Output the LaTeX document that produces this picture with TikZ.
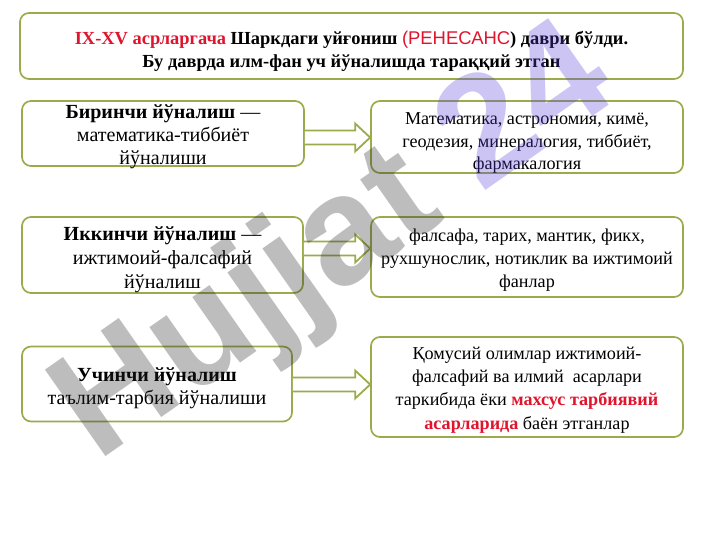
\documentclass[tikz,border=0pt]{standalone}
\usepackage{fontspec}
\setmainfont{Liberation Serif}
\newfontfamily\wmfont{Liberation Sans}
\usetikzlibrary{calc}
\definecolor{olivebd}{RGB}{155,170,75}
\definecolor{redt}{RGB}{225,20,45}
\definecolor{wmg}{RGB}{38,38,38}
\definecolor{wml}{RGB}{88,65,221}
\tikzset{
  box/.style={draw=olivebd, line width=1.7bp, rounded corners=9bp, fill=white, inner sep=0pt},
  txt/.style={align=center, inner sep=0pt},
  lefttxt/.style={txt, font=\fontsize{20.1}{23.3}\selectfont},
  righttxt/.style={txt, font=\fontsize{18.2}{23.3}\selectfont},
  arr/.style={draw=olivebd, line width=1.8bp, fill=white, line join=miter},
  wmark/.style={font=\wmfont\bfseries\fontsize{154}{154}\selectfont, text opacity=0.3, inner sep=0pt}
}
\newcommand{\blockarr}[3]{%
  \draw[arr] let \p1=(#1.east), \p2=(#2.west), \p3=(0,#3) in
    (\x1,\y3+7bp) -- (\x2-15bp,\y3+7bp) -- (\x2-15bp,\y3+14bp) -- (\x2,\y3)
    -- (\x2-15bp,\y3-14bp) -- (\x2-15bp,\y3-7bp) -- (\x1,\y3-7bp);
}
\begin{document}
\begin{tikzpicture}[x=1bp,y=-1bp]
\useasboundingbox (0,0) rectangle (720,540);
% boxes
\node[box, minimum width=663bp, minimum height=66bp] (top) at (351.5,46) {};
\node[box, minimum width=282bp, minimum height=65bp] (b1l) at (163,133.5) {};
\node[box, minimum width=312bp, minimum height=72bp] (b1r) at (527,137) {};
\node[box, minimum width=281bp, minimum height=76bp] (b2l) at (162.5,255) {};
\node[box, minimum width=312bp, minimum height=80bp] (b2r) at (527,257) {};
\node[box, minimum width=270bp, minimum height=75bp] (b3l) at (157,384) {};
\node[box, minimum width=312bp, minimum height=100bp] (b3r) at (527,387) {};

% texts
\node[txt, font=\bfseries\fontsize{18.5}{22.5}\selectfont] (ttop) at ($(top)+(0,5.5)$)
  {{\color{redt}IX-XV асрларгача} Шаркдаги уйғониш {\color{redt}\wmfont\mdseries(РЕНЕСАНС}) даври бўлди.\\ Бу даврда илм-фан уч йўналишда тараққий этган};
\node[lefttxt] (t1l) at ($(b1l)+(0,3)$)
  {{\bfseries Биринчи йўналиш} —\\ математика-тиббиёт\\ йўналиши};
\node[righttxt, font=\fontsize{18.2}{22.5}\selectfont] (t1r) at ($(b1r)+(0,6)$)
  {Математика, астрономия, кимё,\\ геодезия, минералогия, тиббиёт,\\ фармакалогия};
\node[lefttxt, font=\fontsize{20.1}{24}\selectfont] (t2l) at ($(b2l)+(0,4.5)$)
  {{\bfseries Иккинчи йўналиш} —\\ ижтимоий-фалсафий\\ йўналиш};
\node[righttxt] (t2r) at ($(b2r)+(0,3)$)
  {фалсафа, тарих, мантик, фикх,\\ рухшунослик, нотиклик ва ижтимоий\\ фанлар};
\node[lefttxt] (t3l) at ($(b3l)+(0,4)$)
  {{\bfseries Учинчи йўналиш}\\ таълим-тарбия йўналиши};
\node[righttxt] (t3r) at ($(b3r)+(0,3)$)
  {Қомусий олимлар ижтимоий-\\ фалсафий ва илмий\ \ асарлари\\ таркибида ёки {\color{redt}\bfseries махсус тарбиявий}\\ {\color{redt}\bfseries асарларида} баён этганлар};

% arrows
\blockarr{b1l}{b1r}{137.5}
\blockarr{b2l}{b2r}{248.5}
\blockarr{b3l}{b3r}{384.5}

% watermark
\node[wmark, rotate=35] (wm) at (337,247) {\color{wmg}Hujjat \color{wml}24};
\end{tikzpicture}
\end{document}
